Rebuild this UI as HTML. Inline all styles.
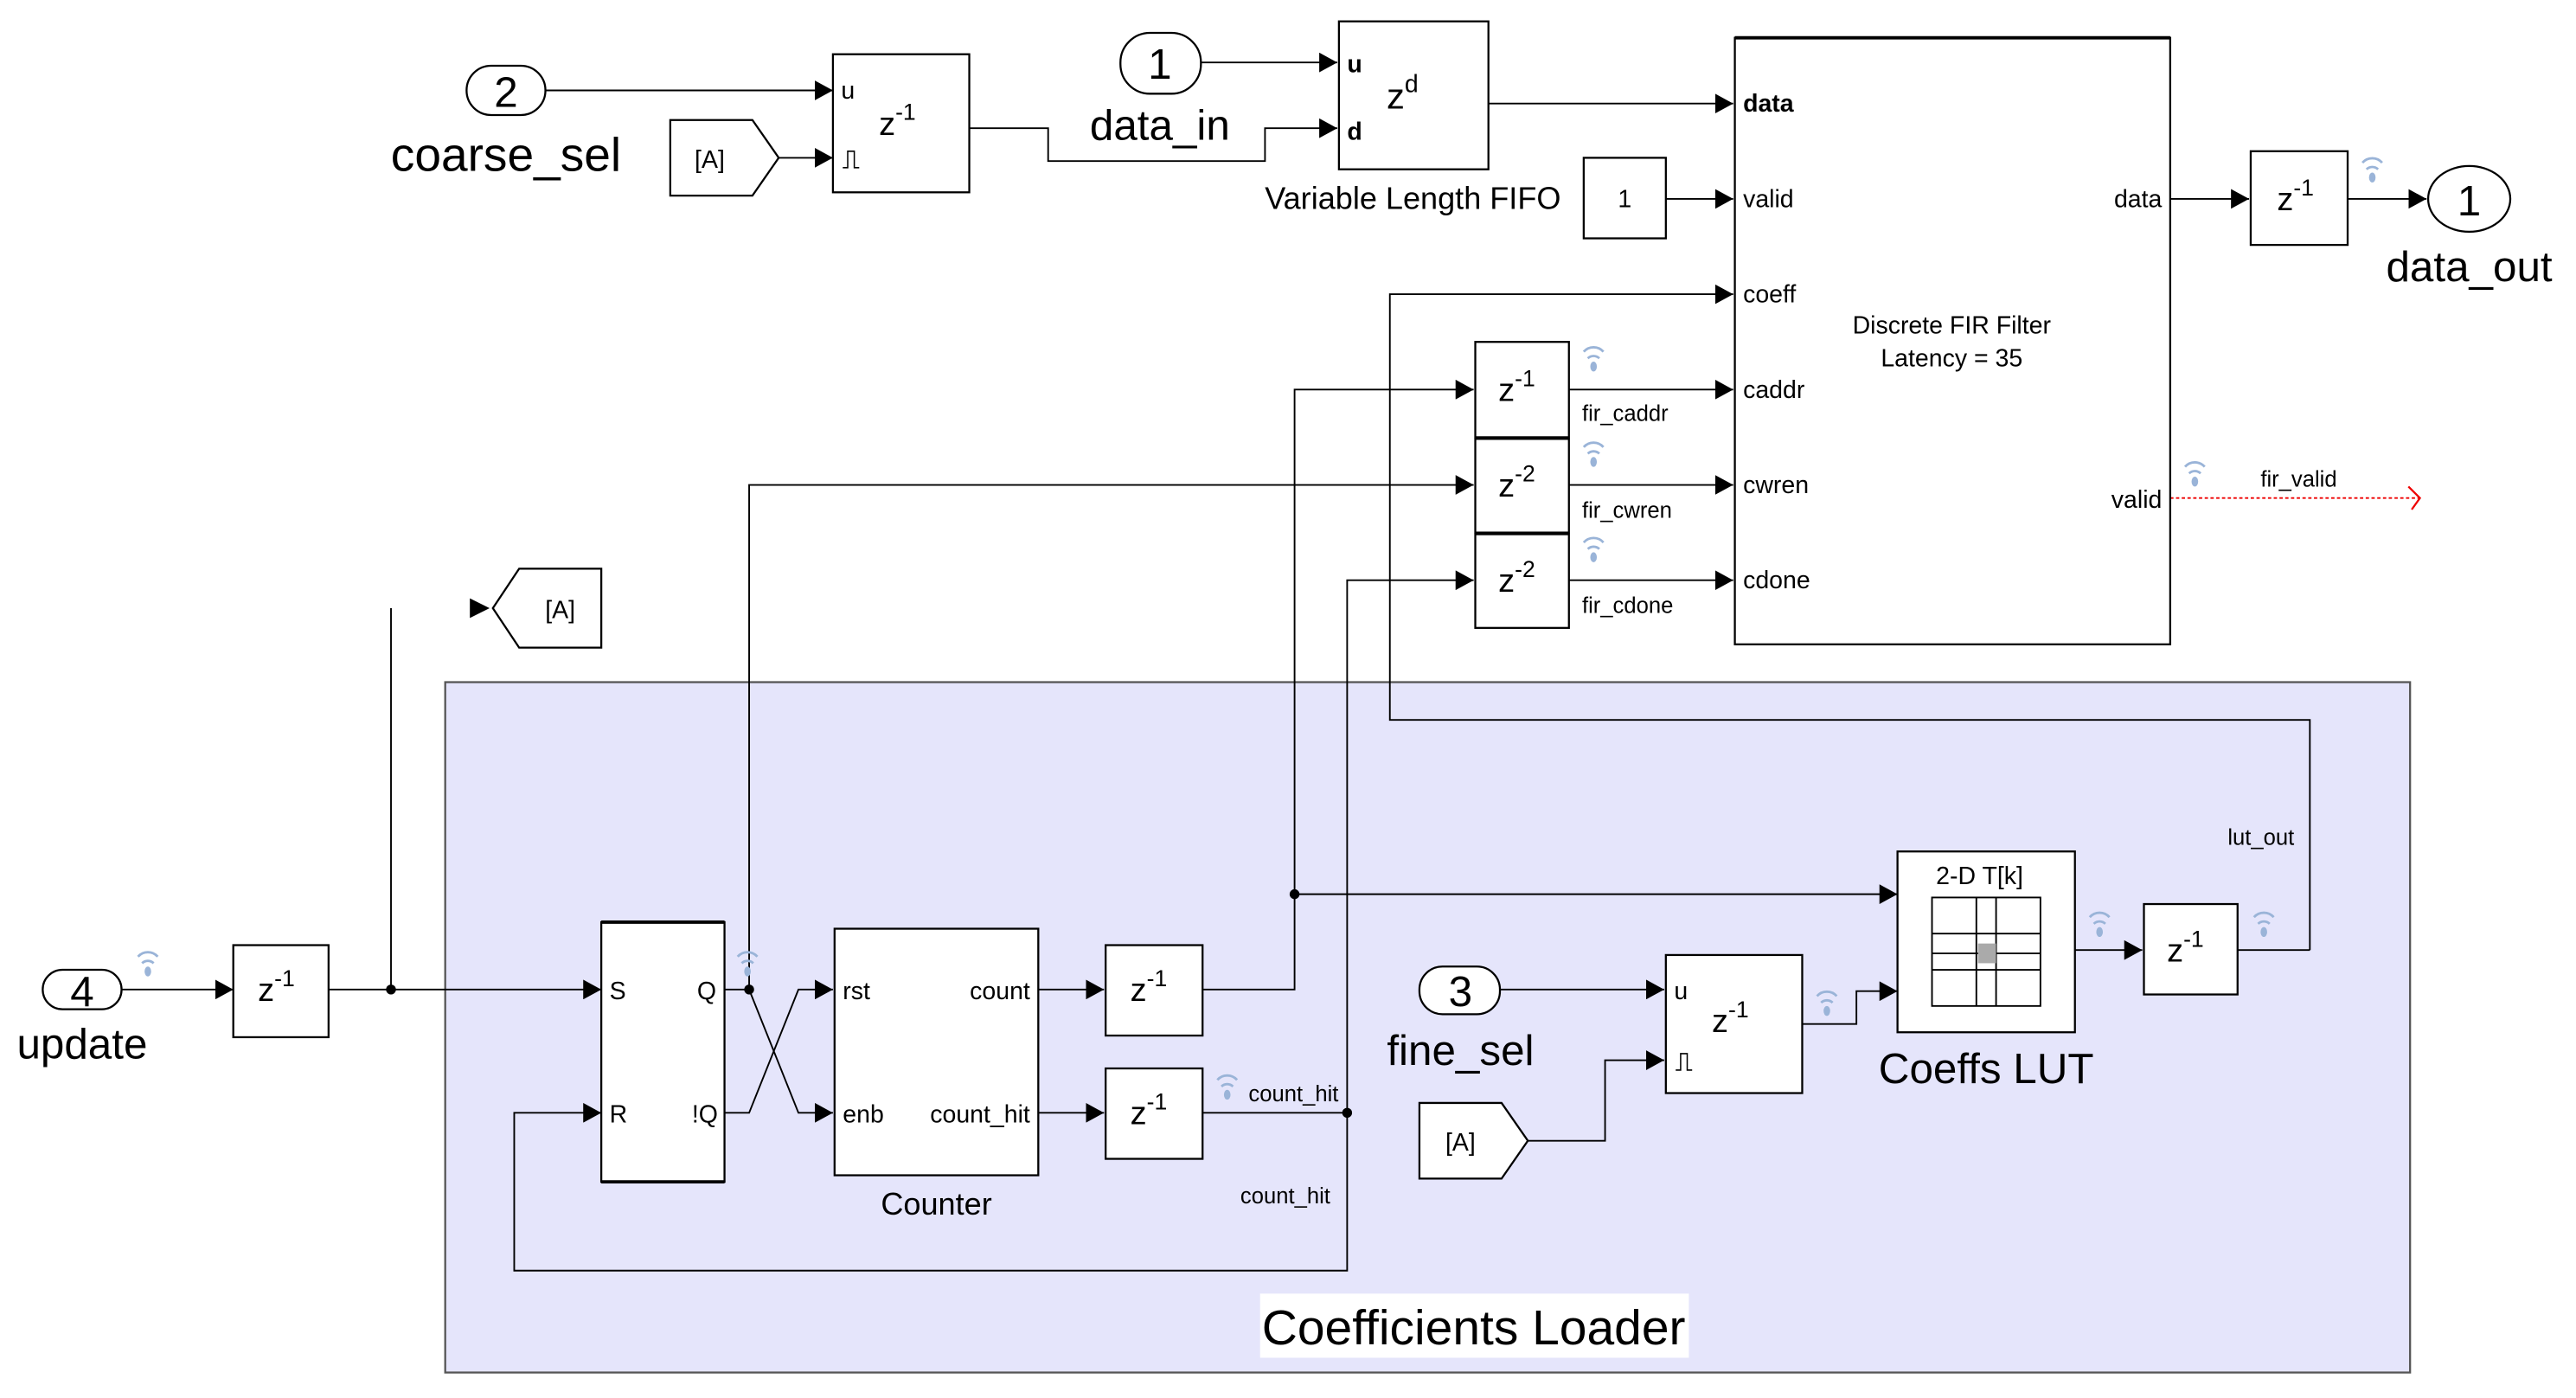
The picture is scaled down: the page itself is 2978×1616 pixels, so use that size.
<!DOCTYPE html>
<html><head><meta charset="utf-8"><style>html,body{margin:0;padding:0;background:#fff}svg{display:block}text{font-family:"Liberation Sans",sans-serif;fill:#000}</style></head>
<body>
<svg width="2978" height="1616" viewBox="0 0 1568 850.5" preserveAspectRatio="none" xmlns="http://www.w3.org/2000/svg">
<defs>
<marker id="a" markerUnits="userSpaceOnUse" markerWidth="12" markerHeight="12" refX="11" refY="6" orient="auto"><path d="M0,0 L11,6 L0,12 z" fill="#000"/></marker>
<g id="wf"><path d="M-6,-4 A8,8 0 0 1 6,-4" stroke="#9ab4d8" stroke-width="1.5" fill="none"/><path d="M-3.5,0 A5,5 0 0 1 3.5,0" stroke="#9ab4d8" stroke-width="1.5" fill="none"/><ellipse cx="0" cy="5" rx="2" ry="3" fill="#9ab4d8"/></g>
</defs>
<rect x="271" y="415" width="1196" height="420" fill="#e5e5fb" stroke="#555" stroke-width="1.2"/>
<rect x="767" y="787" width="261" height="39" fill="#fff"/>
<text x="897" y="818" font-size="30" text-anchor="middle">Coefficients Loader</text>

<g stroke="#000" stroke-width="1" fill="none">
<line x1="332" y1="55" x2="507" y2="55" marker-end="url(#a)"/>
<line x1="474" y1="96" x2="507" y2="96" marker-end="url(#a)"/>
<polyline points="590,78 638,78 638,98 770,98 770,78 814,78" marker-end="url(#a)"/>
<line x1="731" y1="38" x2="814" y2="38" marker-end="url(#a)"/>
<line x1="906" y1="63" x2="1055" y2="63" marker-end="url(#a)"/>
<line x1="1014" y1="121" x2="1055" y2="121" marker-end="url(#a)"/>
<line x1="1321" y1="121" x2="1369" y2="121" marker-end="url(#a)"/>
<line x1="1429" y1="121" x2="1477" y2="121" marker-end="url(#a)"/>
<line x1="955" y1="237" x2="1055" y2="237" marker-end="url(#a)"/>
<line x1="955" y1="295" x2="1055" y2="295" marker-end="url(#a)"/>
<line x1="955" y1="353" x2="1055" y2="353" marker-end="url(#a)"/>
<polyline points="1406,578 1406,438 846,438 846,179 1055,179" marker-end="url(#a)"/>
<polyline points="732,602 788,602 788,237 897,237" marker-end="url(#a)"/>
<line x1="788" y1="544" x2="1155" y2="544" marker-end="url(#a)"/>
<polyline points="456,602 456,295 897,295" marker-end="url(#a)"/>
<polyline points="732,677 820,677 820,353 897,353" marker-end="url(#a)"/>
<polyline points="820,677 820,773 313,773 313,677 366,677" marker-end="url(#a)"/>
<line x1="238" y1="370" x2="238" y2="602"/>
<line x1="74" y1="602" x2="142" y2="602" marker-end="url(#a)"/>
<line x1="200" y1="602" x2="366" y2="602" marker-end="url(#a)"/>
<polyline points="441,602 456,602 486,677 507,677" marker-end="url(#a)"/>
<polyline points="441,677 456,677 486,602 507,602" marker-end="url(#a)"/>
<line x1="632" y1="602" x2="672" y2="602" marker-end="url(#a)"/>
<line x1="632" y1="677" x2="672" y2="677" marker-end="url(#a)"/>
<line x1="913" y1="602" x2="1013" y2="602" marker-end="url(#a)"/>
<polyline points="930,694 977,694 977,645 1013,645" marker-end="url(#a)"/>
<polyline points="1097,623 1130,623 1130,603 1155,603" marker-end="url(#a)"/>
<line x1="1263" y1="578" x2="1304" y2="578" marker-end="url(#a)"/>
<line x1="1362" y1="578" x2="1406" y2="578"/>
</g>
<line x1="1321" y1="303" x2="1473" y2="303" stroke="#e00" stroke-width="1" stroke-dasharray="2,1.5"/>
<path d="M1466,296 L1473,303 L1468,310" stroke="#e00" fill="none" stroke-width="1.2"/>
<g fill="#000"><circle cx="238" cy="602" r="3"/><circle cx="456" cy="602" r="3"/><circle cx="788" cy="544" r="3"/><circle cx="820" cy="677" r="3"/></g>

<g stroke="#000" stroke-width="1.2" fill="#fff">
<rect x="507" y="33" width="83" height="84"/>
<rect x="815" y="13" width="91" height="90"/>
<rect x="1056" y="23" width="265" height="369"/>
<rect x="964" y="96" width="50" height="49"/>
<rect x="1370" y="92" width="59" height="57"/>
<rect x="898" y="208" width="57" height="58"/>
<rect x="898" y="267" width="57" height="57"/>
<rect x="898" y="325" width="57" height="57"/>
<rect x="142" y="575" width="58" height="56"/>
<rect x="366" y="561" width="75" height="158"/>
<rect x="508" y="565" width="124" height="150"/>
<rect x="673" y="575" width="59" height="55"/>
<rect x="673" y="650" width="59" height="55"/>
<rect x="1014" y="581" width="83" height="84"/>
<rect x="1155" y="518" width="108" height="110"/>
<rect x="1305" y="550" width="57" height="55"/>
<rect x="284" y="40" width="48" height="30" rx="15"/>
<rect x="682" y="20" width="49" height="37" rx="18"/>
<rect x="26" y="590" width="48" height="24" rx="12"/>
<rect x="864" y="588" width="49" height="29" rx="14"/>
<ellipse cx="1503" cy="121" rx="25" ry="20"/>
<polygon points="408,73 458,73 474,96 458,119 408,119"/>
<polygon points="864,671 914,671 930,694 914,717 864,717"/>
<polygon points="300,370 316,346 366,346 366,394 316,394"/>
</g>
<path d="M286,364 L298,370 L286,376 z" fill="#000"/>
<line x1="1056" y1="23" x2="1321" y2="23" stroke="#000" stroke-width="2"/>
<line x1="366" y1="561" x2="441" y2="561" stroke="#000" stroke-width="2"/>
<line x1="366" y1="719" x2="441" y2="719" stroke="#000" stroke-width="2"/>
<g stroke="#000" stroke-width="1" fill="none">
<rect x="1176" y="546" width="66" height="66"/>
<line x1="1176" y1="568" x2="1242" y2="568"/><line x1="1176" y1="590" x2="1242" y2="590"/>
<line x1="1176" y1="580" x2="1242" y2="580"/>
<line x1="1203" y1="546" x2="1203" y2="612"/><line x1="1215" y1="546" x2="1215" y2="612"/>
</g>
<rect x="1204" y="574" width="11" height="12" fill="#aaa"/>
<path d="M513,102 h3 v-10 h4 v10 h3" stroke="#000" fill="none" stroke-width="0.8"/>
<path d="M1020,651 h3 v-10 h4 v10 h3" stroke="#000" fill="none" stroke-width="0.8"/>

<use href="#wf" x="970" y="218"/><use href="#wf" x="970" y="276"/><use href="#wf" x="970" y="334"/>
<use href="#wf" x="1336" y="288"/><use href="#wf" x="1444" y="103"/><use href="#wf" x="90" y="586"/>
<use href="#wf" x="455" y="586"/><use href="#wf" x="1278" y="562"/><use href="#wf" x="1378" y="562"/>
<use href="#wf" x="1112" y="610"/><use href="#wf" x="747" y="661"/>

<g font-size="26" text-anchor="middle">
<text x="308" y="65">2</text><text x="308" y="104" font-size="29">coarse_sel</text>
<text x="706" y="48">1</text><text x="706" y="85">data_in</text>
<text x="1503" y="131">1</text><text x="1503" y="171">data_out</text>
<text x="50" y="612">4</text><text x="50" y="644">update</text>
<text x="889" y="612">3</text><text x="889" y="648">fine_sel</text>
<text x="1209" y="659">Coeffs LUT</text>
</g>
<g font-size="20">
<text x="535" y="82">z<tspan font-size="14" dy="-9">-1</tspan></text>
<text x="844" y="66" font-size="22">z<tspan font-size="15" dy="-10">d</tspan></text>
<text x="1386" y="128">z<tspan font-size="14" dy="-9">-1</tspan></text>
<text x="912" y="244">z<tspan font-size="14" dy="-9">-1</tspan></text>
<text x="912" y="302">z<tspan font-size="14" dy="-9">-2</tspan></text>
<text x="912" y="360">z<tspan font-size="14" dy="-9">-2</tspan></text>
<text x="157" y="609">z<tspan font-size="14" dy="-9">-1</tspan></text>
<text x="688" y="609">z<tspan font-size="14" dy="-9">-1</tspan></text>
<text x="688" y="684">z<tspan font-size="14" dy="-9">-1</tspan></text>
<text x="1042" y="628">z<tspan font-size="14" dy="-9">-1</tspan></text>
<text x="1319" y="585">z<tspan font-size="14" dy="-9">-1</tspan></text>
</g>
<g font-size="15">
<text x="512" y="60">u</text>
<text x="820" y="44" font-weight="bold">u</text><text x="820" y="85" font-weight="bold">d</text>
<text x="1061" y="68" font-weight="bold">data</text>
<text x="1061" y="126">valid</text><text x="1061" y="184">coeff</text><text x="1061" y="242">caddr</text>
<text x="1061" y="300">cwren</text><text x="1061" y="358">cdone</text>
<text x="1316" y="126" text-anchor="end">data</text><text x="1316" y="309" text-anchor="end">valid</text>
<text x="1188" y="203" text-anchor="middle">Discrete FIR Filter</text>
<text x="1188" y="223" text-anchor="middle">Latency = 35</text>
<text x="989" y="126" text-anchor="middle">1</text>
<text x="432" y="102" text-anchor="middle">[A]</text>
<text x="341" y="376" text-anchor="middle">[A]</text>
<text x="889" y="700" text-anchor="middle">[A]</text>
<text x="371" y="608">S</text><text x="371" y="683">R</text>
<text x="436" y="608" text-anchor="end">Q</text><text x="437" y="683" text-anchor="end">!Q</text>
<text x="513" y="608">rst</text><text x="513" y="683">enb</text>
<text x="627" y="608" text-anchor="end">count</text><text x="627" y="683" text-anchor="end">count_hit</text>
<text x="1019" y="608">u</text>
<text x="1205" y="538" text-anchor="middle">2-D T[k]</text>
</g>
<text x="860" y="127" font-size="19" text-anchor="middle">Variable Length FIFO</text>
<text x="570" y="739" font-size="19" text-anchor="middle">Counter</text>
<g font-size="13.5">
<text x="963" y="256">fir_caddr</text><text x="963" y="315">fir_cwren</text><text x="963" y="373">fir_cdone</text>
<text x="1376" y="296">fir_valid</text>
<text x="1356" y="514">lut_out</text>
<text x="760" y="670">count_hit</text>
<text x="755" y="732">count_hit</text>
</g>
</svg>
</body></html>
